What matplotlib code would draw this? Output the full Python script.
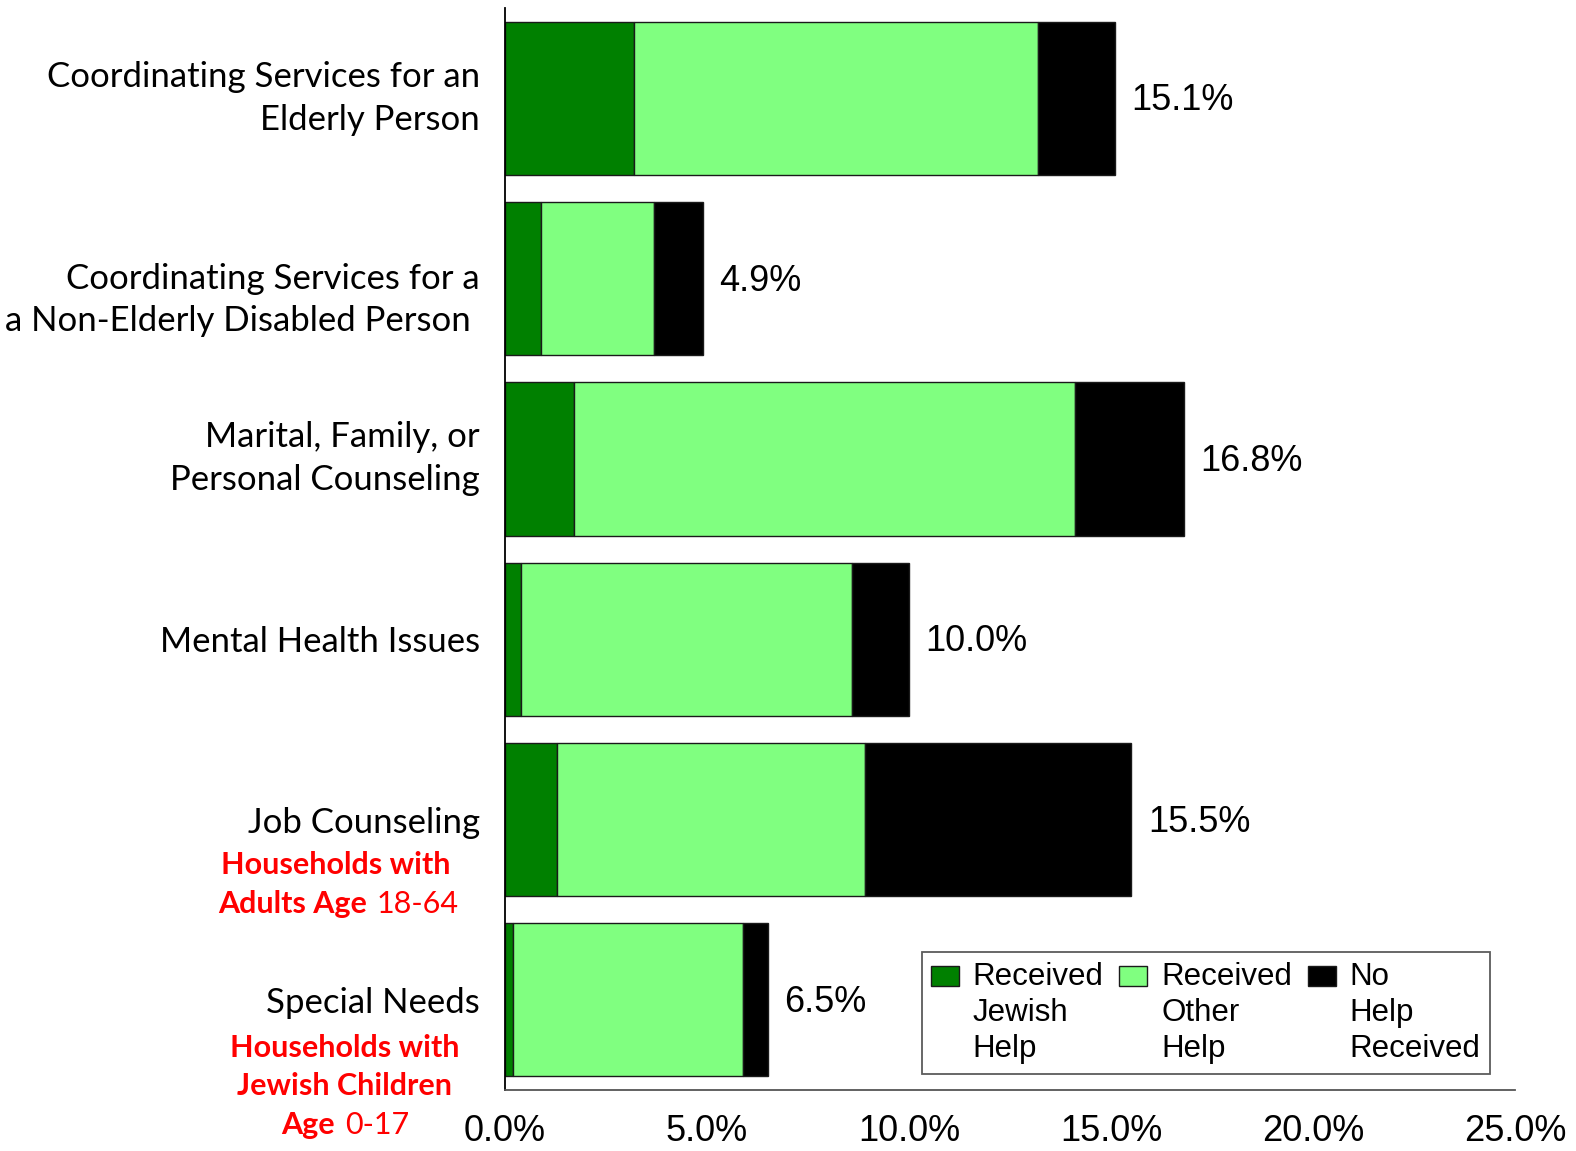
import numpy as np
import matplotlib.pyplot as plt
import matplotlib.patches as mpatches
from matplotlib.container import BarContainer
from matplotlib.legend_handler import HandlerPatch, update_from_first_child
from matplotlib.ticker import FuncFormatter
plt.switch_backend('agg')

categories = ["Coordinating Services for an\nElderly Person",
              "\nCoordinating Services for a\na Non-Elderly Disabled Person ",
              "Marital, Family, or\nPersonal Counseling",
              "Mental Health Issues",
              "Job Counseling",
              "Special Needs"]
jewish_help = [3.2, 0.9, 1.7, 0.4, 1.3, 0.2]
other_help = [10.0, 2.8, 12.4, 8.2, 7.6, 5.7]
no_help = [1.9, 1.2, 2.7, 1.4, 6.6, 0.6]
totals = [15.1, 4.9, 16.8, 10.0, 15.5, 6.5]
series_names = ["Received\nJewish\nHelp", "Received\nOther\nHelp", "No\nHelp\nReceived"]
xticks = [0, 5, 10, 15, 20, 25]

CAT_FONT = "Lato"
NUM_FONT = "Liberation Sans"
PX = 0.72  # pixels -> points at dpi 100

fig = plt.figure(figsize=(15.76, 11.51), dpi=100)
ax = fig.add_axes([0.3204, 0.0530, 0.6409, 0.9400])

y = np.arange(len(categories))
j = np.array(jewish_help)
o = np.array(other_help)
n = np.array(no_help)
kw = dict(height=0.85, edgecolor="#1a1a1a", linewidth=1.0)
b1 = ax.barh(y, j, color="#008000", **kw)
b2 = ax.barh(y, o, left=j, color="#80FF80", **kw)
b3 = ax.barh(y, n, left=j + o, color="#000000", **kw)

for i, t in enumerate(totals):
    ax.annotate(f"{t:.1f}%", xy=(t, i), xytext=(12, -2), textcoords="offset points",
                va="center", ha="left", fontsize=26, family=NUM_FONT)

ax.set_xlim(0, 25)
ax.set_ylim(len(categories) - 0.5, -0.5)
ax.set_xticks(xticks)
ax.xaxis.set_major_formatter(FuncFormatter(lambda v, p: f"{v:.1f}%"))
ax.tick_params(axis="x", length=0, pad=17, labelsize=26)
for lab in ax.get_xticklabels():
    lab.set_family(NUM_FONT)
ax.set_yticks(y)
ax.set_yticklabels(categories, fontsize=25, family=CAT_FONT)
for lab in ax.get_yticklabels():
    lab.set_linespacing(1.42)
    if "\n" in lab.get_text():
        lab.set_va("center")
ax.tick_params(axis="y", length=0, pad=18)

for s in ["top", "right"]:
    ax.spines[s].set_visible(False)
ax.spines["left"].set_color("#000000")
ax.spines["left"].set_linewidth(1.3)
ax.spines["bottom"].set_color("#555555")
ax.spines["bottom"].set_linewidth(1.3)

# red sub-notes under the last two categories
# (bar index, [(bold part, regular part)], centre x px, split x px, line offsets px)
notes = [
    (4, [("Households with", ""), ("Adults Age", "18-64")], -169, -138, [45, 84]),
    (5, [("Households with", ""), ("Jewish Children", ""), ("Age", "0-17")], -160, -170, [48, 86, 125]),
]
red = dict(xycoords=("axes fraction", "data"), textcoords="offset points",
           va="center", fontsize=22, family=CAT_FONT, color="#FF0000")
for idx, lines, cx, split, dys in notes:
    for (bold, reg), dy in zip(lines, dys):
        if reg == "":
            ax.annotate(bold, xy=(0, idx), xytext=(cx * PX, -dy * PX),
                        ha="center", weight="bold", **red)
        else:
            ax.annotate(bold, xy=(0, idx), xytext=(split * PX, -dy * PX),
                        ha="right", weight="bold", **red)
            ax.annotate(reg, xy=(0, idx), xytext=((split + 10) * PX, -dy * PX),
                        ha="left", **red)


def top_patch(legend, orig_handle, xdescent, ydescent, width, height, fontsize):
    # put the swatch beside the first line of the label
    return mpatches.Rectangle((-xdescent, -ydescent + fontsize * 1.2), width, height)


leg = ax.legend([b1, b2, b3], series_names, ncol=3, loc="lower right",
                bbox_to_anchor=(0.975, 0.015), frameon=True, fancybox=False,
                prop={"family": NUM_FONT, "size": 22.5}, handlelength=0.9,
                handleheight=0.6, handletextpad=0.44, columnspacing=0.5,
                borderpad=0.3, borderaxespad=0,
                handler_map={BarContainer: HandlerPatch(patch_func=top_patch,
                                                        update_func=update_from_first_child)})
for t in leg.get_texts():
    t.set_linespacing(1.28)
leg.get_frame().set_edgecolor("#333333")
leg.get_frame().set_linewidth(1.3)

fig.savefig("out.png", dpi=100)
